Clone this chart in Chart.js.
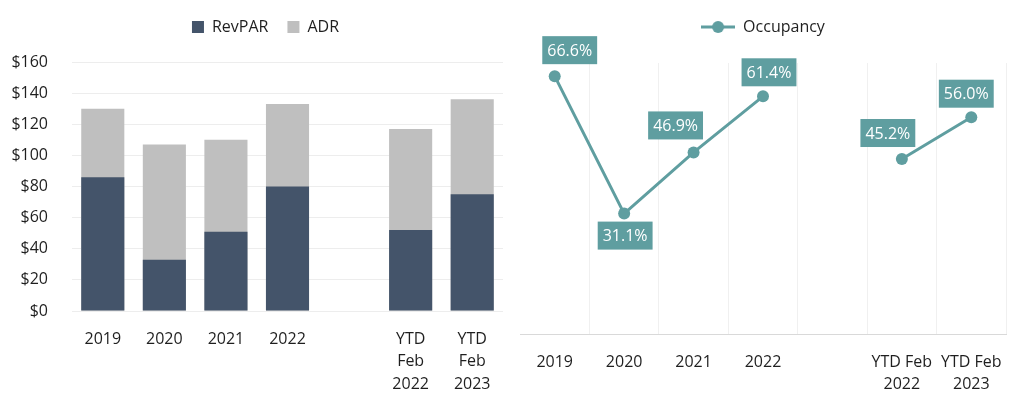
<!DOCTYPE html>
<html>
<head>
<meta charset="utf-8">
<script src="https://cdn.jsdelivr.net/npm/chart.js@4"></script>
<style>
  html, body { margin: 0; padding: 0; background: #ffffff; }
  body { width: 1024px; height: 404px; position: relative; overflow: hidden; }
  .panel { position: absolute; top: 0; height: 404px; }
  #leftWrap { left: 0; width: 515px; }
  #rightWrap { left: 512px; width: 512px; }
</style>
</head>
<body>
<div id="leftWrap" class="panel"><canvas id="left" width="515" height="404"></canvas></div>
<div id="rightWrap" class="panel"><canvas id="right" width="512" height="404"></canvas></div>
<script>
// ---- data ----
const categories = ['2019', '2020', '2021', '2022', '', 'YTD Feb 2022', 'YTD Feb 2023'];
const leftTickLabels = ['2019', '2020', '2021', '2022', '', ['YTD', 'Feb', '2022'], ['YTD', 'Feb', '2023']];
const rightTickLabels = ['2019', '2020', '2021', '2022', '', ['YTD Feb', '2022'], ['YTD Feb', '2023']];
const revparValues = [86, 33, 51, 80, null, 52, 75];
const adrValues = [130, 107, 110, 133, null, 117, 136];
const occupancyValues = [66.6, 31.1, 46.9, 61.4, null, 45.2, 56.0];
const dollarTicks = [0, 20, 40, 60, 80, 100, 120, 140, 160];

// label placement relative to each point (style only)
const labelNudge = [[15, -26], [1, 22], [-18, -27], [6, -24], [0, 0], [-14, -26], [-5, -23.5]];

const FONT = "'Open Sans', 'Noto Sans', sans-serif";
const TEXT = '#1f1f1f';
const TEAL = '#5F9EA0';
const NAVY = '#44546A';
const GREY = '#BFBFBF';
const GRID = '#EDEDED';

Chart.defaults.font.family = FONT;
Chart.defaults.font.size = 16;
Chart.defaults.color = TEXT;

function legendHeight(h, dx) {
  return {
    id: 'legendHeight',
    beforeInit(chart) {
      const lg = chart.legend;
      if (!lg) return;
      const orig = lg.fit;
      lg.fit = function () { orig.call(this); this.height = h; };
    },
    afterLayout(chart) {
      const lg = chart.legend;
      if (lg && dx) { lg.left += dx; lg.right += dx; }
    }
  };
}

// ---- left chart: RevPAR over ADR ----
new Chart(document.getElementById('left'), {
  type: 'bar',
  data: {
    labels: categories,
    datasets: [
      { label: 'RevPAR', data: revparValues, backgroundColor: NAVY, grouped: false,
        categoryPercentage: 1, barPercentage: 0.7 },
      { label: 'ADR', data: adrValues, backgroundColor: GREY, grouped: false,
        categoryPercentage: 1, barPercentage: 0.7 }
    ]
  },
  options: {
    responsive: false,
    animation: false,
    layout: { padding: { top: 0, left: 0, right: 12, bottom: 0 } },
    plugins: {
      legend: {
        position: 'top',
        labels: { boxWidth: 12, boxHeight: 12, padding: 19, color: TEXT,
                  font: { size: 16, lineHeight: 1.2 } }
      },
      tooltip: { enabled: false }
    },
    scales: {
      x: {
        grid: { display: false },
        border: { display: false },
        ticks: {
          padding: 9, color: TEXT, maxRotation: 0, autoSkip: false,
          font: { size: 16, lineHeight: 1.4 },
          callback: (v, i) => leftTickLabels[i]
        },
        afterFit(scale) { scale.height = 93; }
      },
      y: {
        min: 0, max: 160,
        afterBuildTicks(scale) { scale.ticks = dollarTicks.map(v => ({ value: v })); },
        grid: { color: GRID, drawTicks: false, lineWidth: 1 },
        border: { display: false },
        ticks: { padding: 24, color: TEXT, font: { size: 16 },
                 callback: v => '$' + v },
        afterFit(scale) { scale.width = 72; }
      }
    }
  },
  plugins: [legendHeight(62, 14)]
});

// ---- right chart: Occupancy line ----
function makeLegendMarker() {
  const c = document.createElement('canvas');
  c.width = 34; c.height = 14;
  const g = c.getContext('2d');
  g.strokeStyle = TEAL; g.lineWidth = 3;
  g.beginPath(); g.moveTo(0, 7); g.lineTo(34, 7); g.stroke();
  g.fillStyle = TEAL;
  g.beginPath(); g.arc(17, 7, 6, 0, Math.PI * 2); g.fill();
  return c;
}
const legendMarker = makeLegendMarker();

const boxLabels = {
  id: 'boxLabels',
  afterDatasetsDraw(chart) {
    const meta = chart.getDatasetMeta(0);
    const ctx = chart.ctx;
    ctx.save();
    ctx.font = '16px ' + FONT;
    ctx.textAlign = 'center';
    ctx.textBaseline = 'middle';
    meta.data.forEach((pt, i) => {
      const v = occupancyValues[i];
      if (v === null || v === undefined) return;
      const txt = v.toFixed(1) + '%';
      const w = ctx.measureText(txt).width + 10;
      const h = 28;
      const cx = pt.x + labelNudge[i][0];
      const cy = pt.y + labelNudge[i][1];
      ctx.fillStyle = TEAL;
      ctx.fillRect(cx - w / 2, cy - h / 2, w, h);
      ctx.fillStyle = '#ffffff';
      ctx.fillText(txt, cx, cy + 1);
    });
    ctx.restore();
  }
};

new Chart(document.getElementById('right'), {
  type: 'line',
  data: {
    labels: categories,
    datasets: [{
      label: 'Occupancy',
      data: occupancyValues,
      borderColor: TEAL,
      backgroundColor: TEAL,
      borderWidth: 3,
      pointRadius: 6,
      pointBackgroundColor: TEAL,
      pointBorderWidth: 0,
      spanGaps: false,
      tension: 0,
      clip: false
    }]
  },
  options: {
    responsive: false,
    animation: false,
    layout: { padding: { top: 0, left: 8, right: 18, bottom: 0 } },
    plugins: {
      legend: {
        position: 'top',
        labels: { usePointStyle: true, pointStyle: legendMarker, pointStyleWidth: 34,
                  boxHeight: 14, padding: 19, color: TEXT,
                  font: { size: 16, lineHeight: 1.2 } }
      },
      tooltip: { enabled: false }
    },
    scales: {
      x: {
        offset: true,
        grid: {
          offset: true, drawTicks: false,
          color: ctx => (ctx.index === 0 || ctx.index >= categories.length) ? 'rgba(0,0,0,0)' : '#F0F0F0'
        },
        border: { display: true, color: '#D9D9D9', width: 1 },
        ticks: {
          padding: 17, color: TEXT, maxRotation: 0, autoSkip: false,
          font: { size: 16, lineHeight: 1.4 },
          callback: (v, i) => rightTickLabels[i]
        },
        afterFit(scale) { scale.height = 70; }
      },
      y: {
        display: false,
        min: 0, max: 70
      }
    }
  },
  plugins: [legendHeight(63, 0), boxLabels]
});
</script>
</body>
</html>
